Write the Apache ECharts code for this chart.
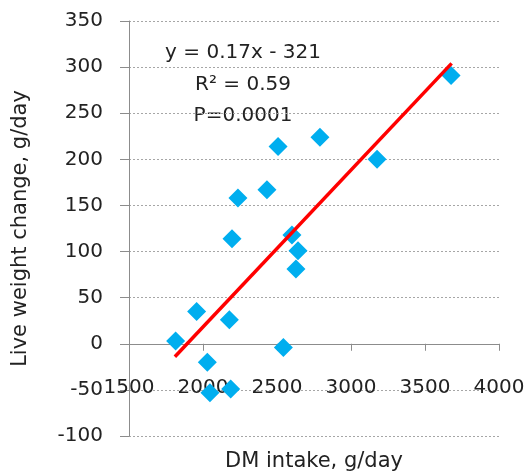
<!DOCTYPE html>
<html>
<head>
<meta charset="utf-8">
<script src="https://cdn.jsdelivr.net/npm/echarts@6/dist/echarts.min.js"></script>
<style>
  html, body { margin: 0; padding: 0; background: #fff; }
  #chart { width: 528px; height: 474px; }
</style>
</head>
<body>
<div id="chart"></div>
<script>
// DM intake (g/day) and live weight change (g/day)
var intake = [1815, 1957, 2029, 2047, 2178, 2187, 2196, 2236, 2432, 2507, 2543, 2601, 2628, 2642, 2790, 3176, 3676];
var weightChange = [3, 35, -20, -53, 26, -49, 114, 158, 167, 214, -4, 118, 81, 101, 224, 200, 291];
// trend line end points
var trendX = [1810, 3680];
var trendY = [-14, 304];
var equationLines = ['y = 0.17x - 321', 'R² = 0.59', 'P=0.0001'];

var points = intake.map(function (x, i) { return [x, weightChange[i]]; });
var trend = trendX.map(function (x, i) { return [x, trendY[i]]; });

var font = 'DejaVu Sans';
var textColor = '#222';
var plain = function (v) { return String(v); };

var chart = echarts.init(document.getElementById('chart'));
chart.setOption({
    animation: false,
    textStyle: { fontFamily: font },
    grid: { left: 129, right: 29, top: 21, bottom: 38, containLabel: false, outerBoundsMode: 'none' },
    xAxis: {
        type: 'value',
        min: 1500,
        max: 4000,
        interval: 500,
        name: 'DM intake, g/day',
        nameLocation: 'middle',
        nameGap: 15,
        nameMoveOverlap: false,
        nameTextStyle: { fontSize: 21, color: textColor, fontFamily: font },
        axisLine: { onZero: true, lineStyle: { color: '#8c8c8c', width: 1 } },
        axisTick: { show: true, length: 7, lineStyle: { color: '#8c8c8c' } },
        axisLabel: { margin: -58, fontSize: 20, color: textColor, fontFamily: font, formatter: plain },
        splitLine: { show: false }
    },
    yAxis: {
        type: 'value',
        min: -100,
        max: 350,
        interval: 50,
        name: 'Live weight change, g/day',
        nameLocation: 'middle',
        nameGap: 98,
        nameTextStyle: { fontSize: 21, color: textColor, fontFamily: font },
        axisLine: { show: true, lineStyle: { color: '#8c8c8c', width: 1 } },
        axisTick: { show: true, length: 9, lineStyle: { color: '#8c8c8c' } },
        axisLabel: { margin: 26, fontSize: 20, color: textColor, fontFamily: font, formatter: plain },
        splitLine: { show: true, lineStyle: { color: '#a6a6a6', type: [2, 2], width: 1 } }
    },
    graphic: equationLines.map(function (t, i) {
        return {
            type: 'text',
            x: 243,
            y: 53 + i * 31.5,
            style: {
                text: t,
                fontSize: 20,
                fontFamily: font,
                fill: textColor,
                align: 'center',
                verticalAlign: 'middle'
            }
        };
    }),
    series: [
        {
            type: 'scatter',
            data: points,
            symbol: 'diamond',
            symbolSize: 19,
            itemStyle: { color: '#00aeef', opacity: 1 },
            z: 3
        },
        {
            type: 'line',
            data: trend,
            showSymbol: false,
            symbol: 'none',
            lineStyle: { color: '#ff0000', width: 3.5 },
            z: 4
        }
    ]
});
</script>
</body>
</html>
